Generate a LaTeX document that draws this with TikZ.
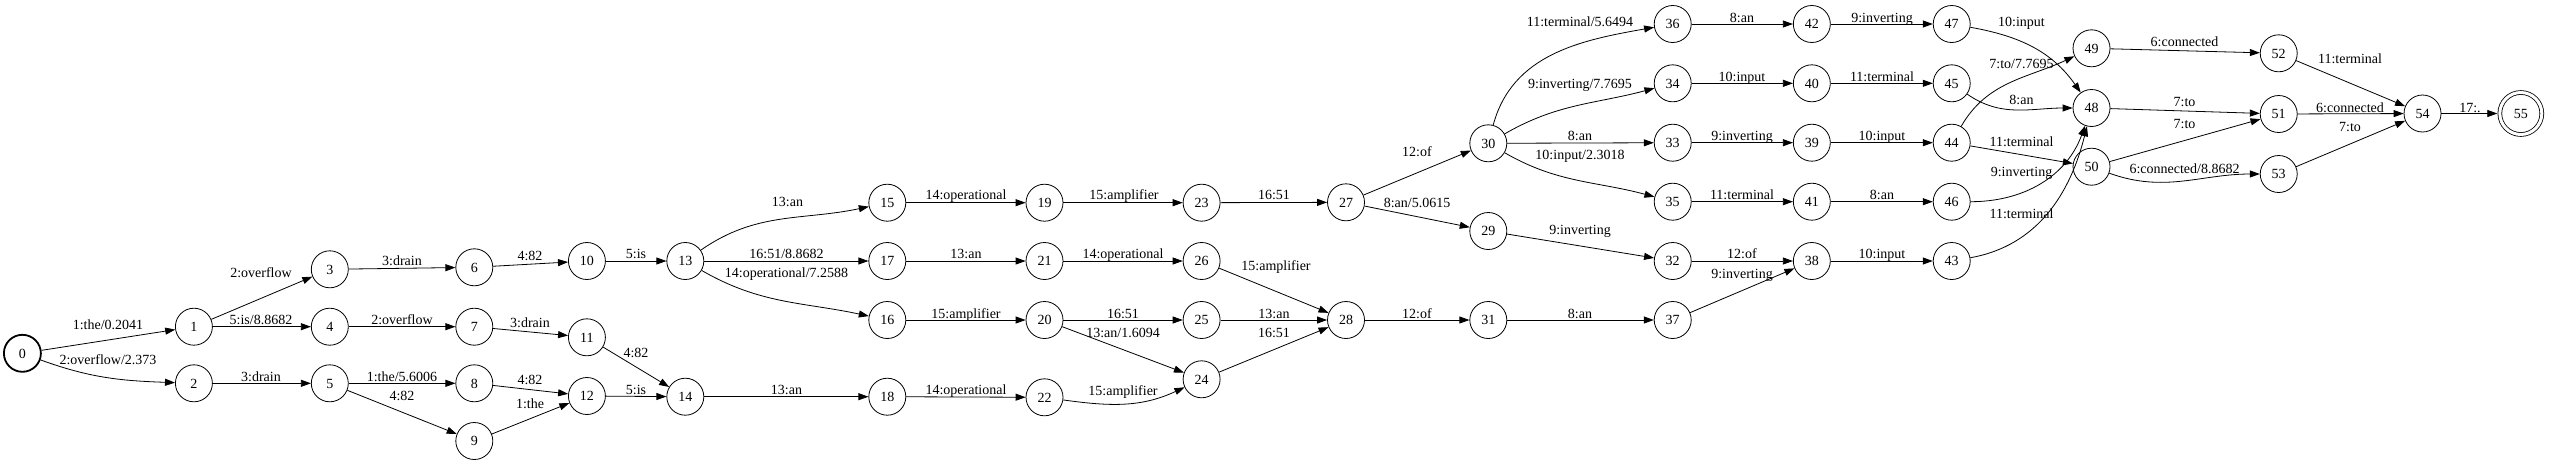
\documentclass[tikz,border=0pt]{standalone}
\usepackage{fontspec}
\setmainfont{Liberation Serif}
\usetikzlibrary{arrows.meta, positioning, calc}

\begin{document}
\begin{tikzpicture}[x=1pt, y=-1pt,
  state/.style={circle, draw, line width=0.8pt, minimum size=37pt, inner sep=0pt,
    font=\fontsize{14}{16}\selectfont, text height=9.5pt, text depth=0pt},
  start/.style={state, line width=1.8pt},
  final/.style={state, double, double distance=3pt, minimum size=42pt, outer sep=2.5pt},
  arc/.style={-{Triangle[length=10pt, width=7pt]}, line width=0.8pt},
  lbl/.style={inner sep=0pt, font=\fontsize{14}{16}\selectfont, text height=9.5pt, text depth=0pt}]

  % Frame of the picture
  \useasboundingbox (0,0) rectangle (2550,464);

  % --- 1. States ---
  \node[start] (s0) at (22.4,353.3) {0};
  \node[state] (s1) at (193.9,326.7) {1};
  \node[state] (s2) at (193.9,383.3) {2};
  \node[state] (s3) at (329.8,269.3) {3};
  \node[state] (s4) at (329.8,326.7) {4};
  \node[state] (s5) at (329.8,383.3) {5};
  \node[state] (s6) at (474.3,267.3) {6};
  \node[state] (s7) at (474.3,326.7) {7};
  \node[state] (s8) at (474.3,383.3) {8};
  \node[state] (s9) at (474.3,441) {9};
  \node[state] (s10) at (586.9,261) {10};
  \node[state] (s11) at (586.9,337.3) {11};
  \node[state] (s12) at (586.9,396) {12};
  \node[state] (s13) at (685.3,261) {13};
  \node[state] (s14) at (685.3,396.7) {14};
  \node[state] (s15) at (887.3,202.7) {15};
  \node[state] (s16) at (887.3,320) {16};
  \node[state] (s17) at (887.3,261) {17};
  \node[state] (s18) at (887.3,396.7) {18};
  \node[state] (s19) at (1044.5,202.7) {19};
  \node[state] (s20) at (1044.5,320) {20};
  \node[state] (s21) at (1044.5,261) {21};
  \node[state] (s22) at (1044.5,397.3) {22};
  \node[state] (s23) at (1201.6,202.7) {23};
  \node[state] (s24) at (1201.6,379.3) {24};
  \node[state] (s25) at (1201.6,320) {25};
  \node[state] (s26) at (1201.6,261) {26};
  \node[state] (s27) at (1346,202.3) {27};
  \node[state] (s28) at (1346,320) {28};
  \node[state] (s29) at (1488.3,231) {29};
  \node[state] (s30) at (1488.3,143.3) {30};
  \node[state] (s31) at (1488.3,320) {31};
  \node[state] (s32) at (1672.7,261) {32};
  \node[state] (s33) at (1672.7,142.7) {33};
  \node[state] (s34) at (1672.7,83.3) {34};
  \node[state] (s35) at (1672.7,201.7) {35};
  \node[state] (s36) at (1672.7,24) {36};
  \node[state] (s37) at (1672.7,320) {37};
  \node[state] (s38) at (1811.8,261) {38};
  \node[state] (s39) at (1811.8,142.7) {39};
  \node[state] (s40) at (1811.8,83.3) {40};
  \node[state] (s41) at (1811.8,201.7) {41};
  \node[state] (s42) at (1811.8,24) {42};
  \node[state] (s43) at (1951.7,261) {43};
  \node[state] (s44) at (1951.7,142.7) {44};
  \node[state] (s45) at (1951.7,83.3) {45};
  \node[state] (s46) at (1951.7,201.7) {46};
  \node[state] (s47) at (1951.7,24) {47};
  \node[state] (s48) at (2091.5,108) {48};
  \node[state] (s49) at (2091.5,48.3) {49};
  \node[state] (s50) at (2091.5,166.7) {50};
  \node[state] (s51) at (2278.7,114) {51};
  \node[state] (s52) at (2278.7,53.3) {52};
  \node[state] (s53) at (2278.7,174) {53};
  \node[state] (s54) at (2422.5,113.5) {54};
  \node[final] (s55) at (2520.8,113.5) {55};

  % --- 2. Arcs ---
  \draw[arc] (s0) -- (s1);
  \draw[arc] (s0) to[out=-20, in=178] (s2);
  \draw[arc] (s1) -- (s3);
  \draw[arc] (s1) -- (s4);
  \draw[arc] (s2) -- (s5);
  \draw[arc] (s3) -- (s6);
  \draw[arc] (s4) -- (s7);
  \draw[arc] (s5) -- (s8);
  \draw[arc] (s5) -- (s9);
  \draw[arc] (s6) -- (s10);
  \draw[arc] (s7) -- (s11);
  \draw[arc] (s8) -- (s12);
  \draw[arc] (s9) -- (s12);
  \draw[arc] (s10) -- (s13);
  \draw[arc] (s11) -- (s14);
  \draw[arc] (s12) -- (s14);
  \draw[arc] (s13) to[out=35, in=192] (s15);
  \draw[arc] (s13) -- (s17);
  \draw[arc] (s13) to[out=-30, in=168] (s16);
  \draw[arc] (s14) -- (s18);
  \draw[arc] (s15) -- (s19);
  \draw[arc] (s17) -- (s21);
  \draw[arc] (s16) -- (s20);
  \draw[arc] (s18) -- (s22);
  \draw[arc] (s19) -- (s23);
  \draw[arc] (s21) -- (s26);
  \draw[arc] (s20) -- (s25);
  \draw[arc] (s20) -- (s24);
  \draw[arc] (s22) to[out=-8, in=205] (s24);
  \draw[arc] (s23) -- (s27);
  \draw[arc] (s26) -- (s28);
  \draw[arc] (s25) -- (s28);
  \draw[arc] (s24) -- (s28);
  \draw[arc] (s27) -- (s30);
  \draw[arc] (s27) -- (s29);
  \draw[arc] (s28) -- (s31);
  \draw[arc] (s30) to[out=75, in=190] (s36);
  \draw[arc] (s30) to[out=30, in=195] (s34);
  \draw[arc] (s30) -- (s33);
  \draw[arc] (s30) to[out=-30, in=165] (s35);
  \draw[arc] (s29) -- (s32);
  \draw[arc] (s31) -- (s37);
  \draw[arc] (s36) -- (s42);
  \draw[arc] (s34) -- (s40);
  \draw[arc] (s33) -- (s39);
  \draw[arc] (s35) -- (s41);
  \draw[arc] (s32) -- (s38);
  \draw[arc] (s37) -- (s38);
  \draw[arc] (s42) -- (s47);
  \draw[arc] (s40) -- (s45);
  \draw[arc] (s39) -- (s44);
  \draw[arc] (s41) -- (s46);
  \draw[arc] (s38) -- (s43);
  \draw[arc] (s47) to[out=-10, in=125] (s48);
  \draw[arc] (s45) to[out=-35, in=180] (s48);
  \draw[arc] (s44) to[out=60, in=205] (s49);
  \draw[arc] (s44) -- (s50);
  \draw[arc] (s46) to[out=0, in=250] (s48);
  \draw[arc] (s43) to[out=10, in=256] (s48);
  \draw[arc] (s49) -- (s52);
  \draw[arc] (s48) -- (s51);
  \draw[arc] (s50) -- (s51);
  \draw[arc] (s50) to[out=-20, in=180] (s53);
  \draw[arc] (s52) -- (s54);
  \draw[arc] (s51) -- (s54);
  \draw[arc] (s53) -- (s54);
  \draw[arc] (s54) -- (s55);

  % --- 3. Arc labels ---
  \node[lbl] (l0-1) at (108,325) {1:the/0.2041};
  \node[lbl] (l0-2) at (108,360) {2:overflow/2.373};
  \node[lbl] (l1-3) at (261,273) {2:overflow};
  \node[lbl] (l1-4) at (261,319.5) {5:is/8.8682};
  \node[lbl] (l2-5) at (261,376.5) {3:drain};
  \node[lbl] (l3-6) at (402,260.5) {3:drain};
  \node[lbl] (l4-7) at (402,319.5) {2:overflow};
  \node[lbl] (l5-8) at (402,376.5) {1:the/5.6006};
  \node[lbl] (l5-9) at (402,396) {4:82};
  \node[lbl] (l6-10) at (530,256) {4:82};
  \node[lbl] (l7-11) at (530,322.5) {3:drain};
  \node[lbl] (l8-12) at (530,379.5) {4:82};
  \node[lbl] (l9-12) at (530,404) {1:the};
  \node[lbl] (l10-13) at (636,254) {5:is};
  \node[lbl] (l11-14) at (636,352.5) {4:82};
  \node[lbl] (l12-14) at (636,389.5) {5:is};
  \node[lbl] (l13-15) at (787.5,201.5) {13:an};
  \node[lbl] (l13-17) at (786.5,254) {16:51/8.8682};
  \node[lbl] (l13-16) at (786.5,272.5) {14:operational/7.2588};
  \node[lbl] (l14-18) at (786.5,389.5) {13:an};
  \node[lbl] (l15-19) at (966,194.5) {14:operational};
  \node[lbl] (l17-21) at (966,254) {13:an};
  \node[lbl] (l16-20) at (966,313.5) {15:amplifier};
  \node[lbl] (l18-22) at (966,389.5) {14:operational};
  \node[lbl] (l19-23) at (1124,194.5) {15:amplifier};
  \node[lbl] (l21-26) at (1123,254) {14:operational};
  \node[lbl] (l20-25) at (1123,313.5) {16:51};
  \node[lbl] (l20-24) at (1123,332.5) {13:an/1.6094};
  \node[lbl] (l22-24) at (1123,390.5) {15:amplifier};
  \node[lbl] (l23-27) at (1274,194.5) {16:51};
  \node[lbl] (l26-28) at (1276,265.5) {15:amplifier};
  \node[lbl] (l25-28) at (1274,313.5) {13:an};
  \node[lbl] (l24-28) at (1274,332.5) {16:51};
  \node[lbl] (l27-30) at (1417,151.5) {12:of};
  \node[lbl] (l27-29) at (1417,202.5) {8:an/5.0615};
  \node[lbl] (l28-31) at (1417,313.5) {12:of};
  \node[lbl] (l30-36) at (1580,21.5) {11:terminal/5.6494};
  \node[lbl] (l30-34) at (1580,83.5) {9:inverting/7.7695};
  \node[lbl] (l30-33) at (1580,135.5) {8:an};
  \node[lbl] (l30-35) at (1580,155) {10:input/2.3018};
  \node[lbl] (l29-32) at (1580,230) {9:inverting};
  \node[lbl] (l31-37) at (1580,313.5) {8:an};
  \node[lbl] (l36-42) at (1742,17.5) {8:an};
  \node[lbl] (l34-40) at (1742,76.5) {10:input};
  \node[lbl] (l33-39) at (1742,135.5) {9:inverting};
  \node[lbl] (l35-41) at (1742,194.5) {11:terminal};
  \node[lbl] (l32-38) at (1742,254) {12:of};
  \node[lbl] (l37-38) at (1742,273.5) {9:inverting};
  \node[lbl] (l42-47) at (1882,17.5) {9:inverting};
  \node[lbl] (l40-45) at (1882,76.5) {11:terminal};
  \node[lbl] (l39-44) at (1882,135.5) {10:input};
  \node[lbl] (l41-46) at (1882,194.5) {8:an};
  \node[lbl] (l38-43) at (1882,254) {10:input};
  \node[lbl] (l47-48) at (2021.5,21.5) {10:input};
  \node[lbl] (l44-49) at (2021.5,63.5) {7:to/7.7695};
  \node[lbl] (l45-48) at (2021.5,99.5) {8:an};
  \node[lbl] (l44-50) at (2021.5,141.5) {11:terminal};
  \node[lbl] (l46-48) at (2021.5,171.5) {9:inverting};
  \node[lbl] (l43-48) at (2021.5,213.5) {11:terminal};
  \node[lbl] (l49-52) at (2184.5,41.5) {6:connected};
  \node[lbl] (l48-51) at (2184.5,101.5) {7:to};
  \node[lbl] (l50-51) at (2184.5,124) {7:to};
  \node[lbl] (l50-53) at (2184.5,168.5) {6:connected/8.8682};
  \node[lbl] (l52-54) at (2350,58.5) {11:terminal};
  \node[lbl] (l51-54) at (2350,107.5) {6:connected};
  \node[lbl] (l53-54) at (2350,126.5) {7:to};
  \node[lbl] (l54-55) at (2470,107.5) {17:.};

\end{tikzpicture}
\end{document}
